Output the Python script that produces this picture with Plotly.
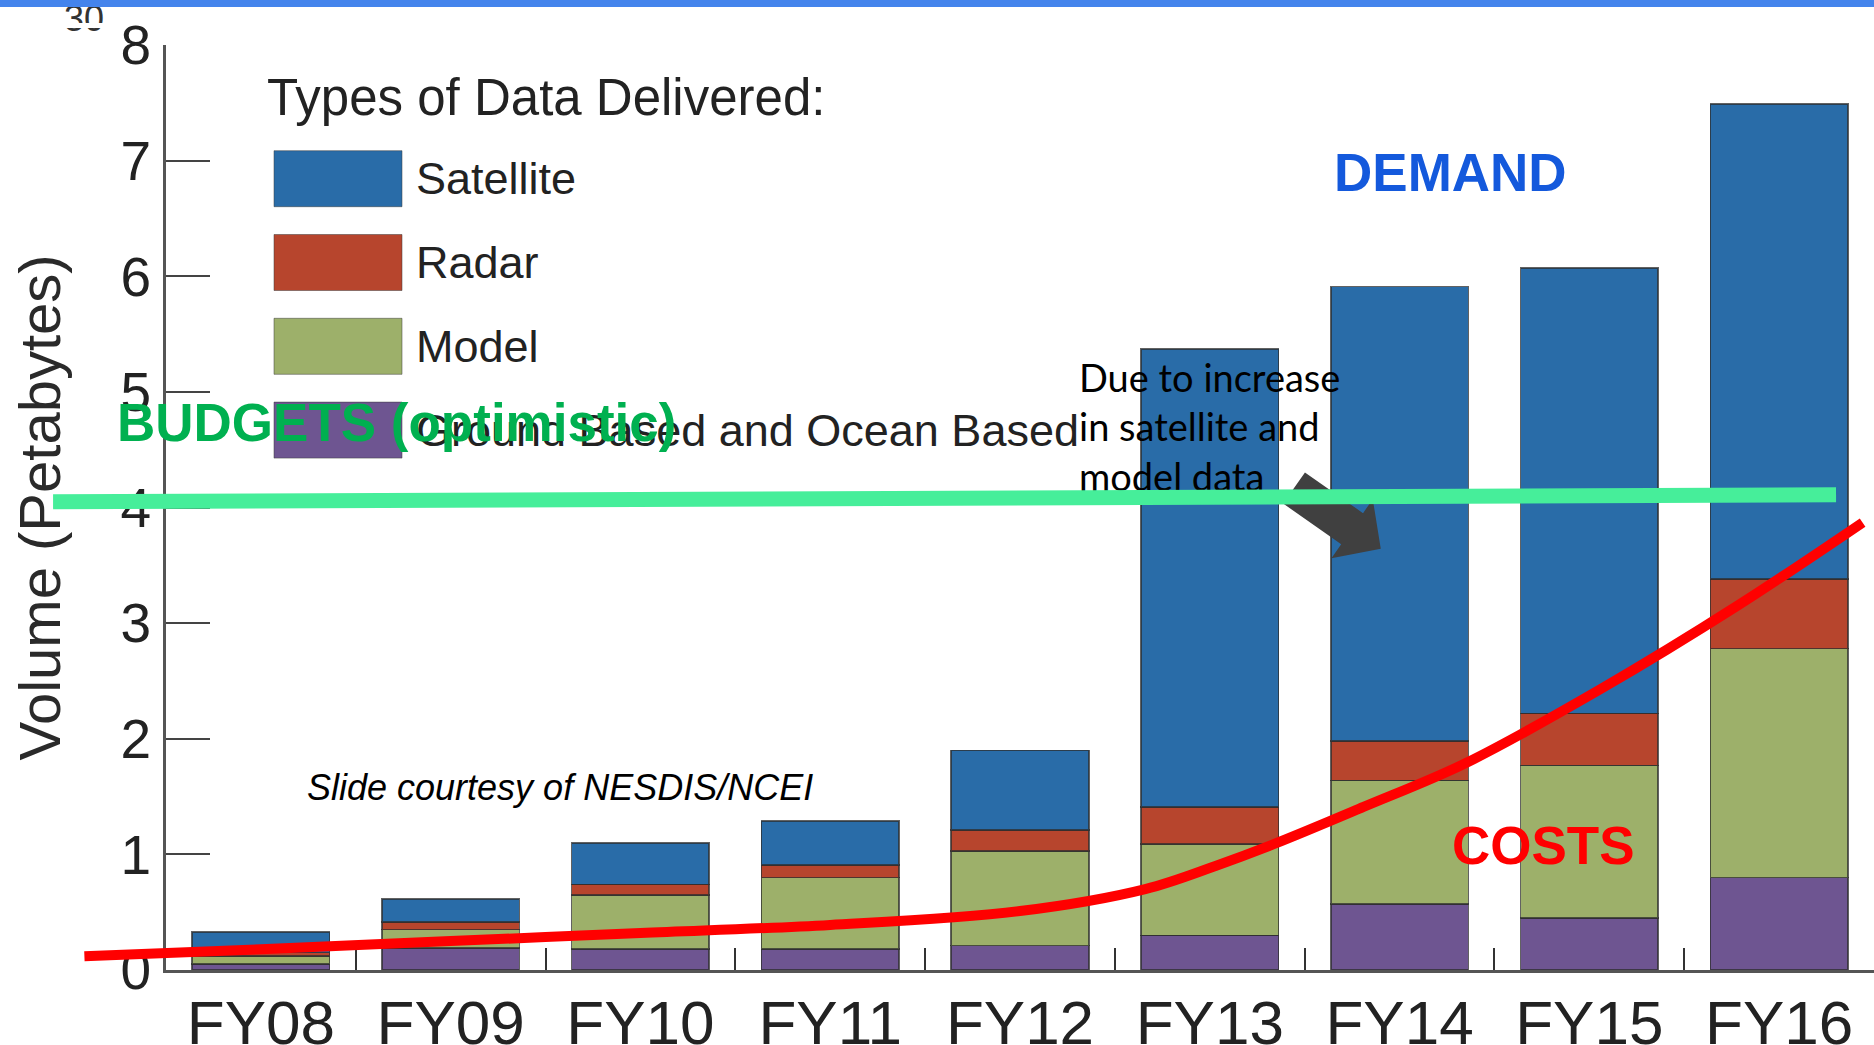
import math
import plotly.graph_objects as go

# ---------------- data ----------------
years = ["FY08", "FY09", "FY10", "FY11", "FY12", "FY13", "FY14", "FY15", "FY16"]
ground = [0.05, 0.19, 0.18, 0.18, 0.21, 0.30, 0.57, 0.45, 0.80]
model = [0.07, 0.16, 0.47, 0.62, 0.82, 0.79, 1.07, 1.32, 1.98]
radar = [0.03, 0.065, 0.09, 0.11, 0.18, 0.32, 0.34, 0.45, 0.60]
satellite = [0.18, 0.20, 0.36, 0.38, 0.69, 3.96, 3.93, 3.85, 4.11]

series_names = ["Satellite", "Radar", "Model", "Ground Based and Ocean Based"]
series_values = [satellite, radar, model, ground]
series_colors = ["#296ca8", "#b7452d", "#9db06a", "#6e5591"]

y_ticks = [0, 1, 2, 3, 4, 5, 6, 7, 8]

# overlay curves (x = category index, y = petabytes)
cost_x = [-0.93, 0, 1, 2, 3, 4, 4.66, 5.03, 5.34, 5.81, 6.35, 7.06, 7.78, 8.44]
cost_y = [0.12, 0.18, 0.25, 0.32, 0.39, 0.51, 0.70, 0.90, 1.09, 1.41, 1.79, 2.43, 3.15, 3.87]
budget_x = [-1.095, 8.30]
budget_y = [4.05, 4.11]

# ---------------- layout geometry ----------------
W, H = 1874, 1045
L, T, B = 166, 45, 75
ux = (W - L) / 9.0            # px per category
uy = (H - T - B) / 8.0        # px per petabyte
x2_range = [-0.5 - L / ux, 8.5]
y2_range = [-B / uy, 8 + T / uy]

FONT = "Liberation Sans, Arial, sans-serif"

fig = go.Figure()

# stacked bars (bottom -> top)
for name, vals, col in reversed(list(zip(series_names, series_values, series_colors))):
    fig.add_trace(go.Bar(
        x=years, y=vals, name=name, marker_color=col,
        marker_line=dict(color="rgba(45,45,45,0.75)", width=1.5),
        showlegend=False, xaxis="x", yaxis="y", hoverinfo="skip"))

# ---- overlay subplot (full figure) ----
# "30" remnant at top-left
fig.add_trace(go.Scatter(
    x=[x2_range[0] + 64 / ux], y=[y2_range[1] - 22 / uy], mode="text", text=["30"],
    textposition="middle right", textfont=dict(family=FONT, size=36, color="#333333"),
    xaxis="x2", yaxis="y2", showlegend=False, hoverinfo="skip"))

# callout text
fig.add_trace(go.Scatter(
    x=[4.311], y=[4.656], mode="text",
    text=["Due to increase<br>in satellite and<br>model data"],
    textposition="middle right",
    textfont=dict(family="Lato, Carlito, sans-serif", size=38, color="#000000"),
    xaxis="x2", yaxis="y2", showlegend=False, hoverinfo="skip"))

# block arrow
tail = (5.444, 4.169)
tip = (5.901, 3.643)
tx, ty = (tail[0] - x2_range[0]) * ux, (y2_range[1] - tail[1]) * uy
px_, py_ = (tip[0] - x2_range[0]) * ux, (y2_range[1] - tip[1]) * uy
length = math.hypot(px_ - tx, py_ - ty)
dx, dy = (px_ - tx) / length, (py_ - ty) / length
nx, ny = -dy, dx
head_len, shaft_hw, head_hw = 35, 19, 36
mx, my = tx + (length - head_len) * dx, ty + (length - head_len) * dy
poly_px = [
    (tx - shaft_hw * nx, ty - shaft_hw * ny),
    (mx - shaft_hw * nx, my - shaft_hw * ny),
    (mx - head_hw * nx, my - head_hw * ny),
    (px_, py_),
    (mx + head_hw * nx, my + head_hw * ny),
    (mx + shaft_hw * nx, my + shaft_hw * ny),
    (tx + shaft_hw * nx, ty + shaft_hw * ny),
]
fig.add_trace(go.Scatter(
    x=[x2_range[0] + p[0] / ux for p in poly_px] + [x2_range[0] + poly_px[0][0] / ux],
    y=[y2_range[1] - p[1] / uy for p in poly_px] + [y2_range[1] - poly_px[0][1] / uy],
    mode="lines", fill="toself", fillcolor="#404040", line=dict(width=0, color="#404040"),
    xaxis="x2", yaxis="y2", showlegend=False, hoverinfo="skip"))

# budget line
fig.add_trace(go.Scatter(
    x=budget_x, y=budget_y, mode="lines", line=dict(color="#46ee9a", width=15),
    xaxis="x2", yaxis="y2", showlegend=False, hoverinfo="skip"))

# cost curve
fig.add_trace(go.Scatter(
    x=cost_x, y=cost_y, mode="lines", line=dict(color="#ff0000", width=10, shape="spline", smoothing=1.0),
    xaxis="x2", yaxis="y2", showlegend=False, hoverinfo="skip"))

# ---------------- custom legend ----------------
shapes = []
annotations = []
annotations.append(dict(
    xref="paper", yref="paper", x=265 / W, y=1 - 98 / H, xanchor="left", yanchor="middle",
    text="Types of Data Delivered:", showarrow=False,
    font=dict(family=FONT, size=51, color="#222222")))
sw_left, sw_w, sw_h, sw_top0, sw_step = 274, 128, 56, 150.7, 83.8
for i, (name, col) in enumerate(zip(series_names, series_colors)):
    top = sw_top0 + i * sw_step
    shapes.append(dict(
        type="rect", xref="paper", yref="paper",
        x0=sw_left / W, x1=(sw_left + sw_w) / W, y0=1 - (top + sw_h) / H, y1=1 - top / H,
        fillcolor=col, line=dict(color="rgba(60,60,60,0.5)", width=1), layer="above"))
    annotations.append(dict(
        xref="paper", yref="paper", x=(sw_left + sw_w + 12) / W, y=1 - (top + sw_h / 2) / H,
        xanchor="left", yanchor="middle", text=name, showarrow=False,
        font=dict(family=FONT, size=45, color="#222222")))

# top blue band and white mask under the "30"
shapes.append(dict(type="rect", xref="paper", yref="paper", x0=0, x1=1, y0=1 - 7 / H, y1=1,
                   fillcolor="#4484ec", line=dict(width=0), layer="above"))
shapes.append(dict(type="rect", xref="paper", yref="paper", x0=55 / W, x1=114 / W,
                   y0=1 - 28 / H, y1=1 - 23 / H, fillcolor="#ffffff", line=dict(width=0), layer="above"))

# overlay labels
annotations += [
    dict(xref="x2", yref="y2", x=-0.769, y=4.735, xanchor="left", yanchor="middle",
         text="<b>BUDGETS (optimistic)</b>", showarrow=False,
         font=dict(family=FONT, size=53, color="#00b050")),
    dict(xref="x2", yref="y2", x=6.266, y=6.90, xanchor="center", yanchor="middle",
         text="<b>DEMAND</b>", showarrow=False,
         font=dict(family=FONT, size=53, color="#1459dc")),
    dict(xref="x2", yref="y2", x=6.761, y=1.081, xanchor="center", yanchor="middle",
         text="<b>COSTS</b>", showarrow=False,
         font=dict(family=FONT, size=53, color="#ff0000")),
    dict(xref="x2", yref="y2", x=0.233, y=1.578, xanchor="left", yanchor="middle",
         text="<i>Slide courtesy of NESDIS/NCEI</i>", showarrow=False,
         font=dict(family=FONT, size=36, color="#000000")),
]

fig.update_layout(
    template="none",
    width=W, height=H,
    margin=dict(l=0, r=0, t=0, b=0),
    paper_bgcolor="#ffffff", plot_bgcolor="rgba(0,0,0,0)",
    barmode="stack", bargap=0.275,
    showlegend=False,
    font=dict(family=FONT, color="#222222"),
    xaxis=dict(
        domain=[L / W, 1], range=[-0.5, 8.5], type="category",
        showline=True, linecolor="#555555", linewidth=3,
        ticks="inside", tickson="boundaries", ticklen=22, tickwidth=2, tickcolor="#333333",
        tickfont=dict(family=FONT, size=62, color="#222222"),
        ticklabelstandoff=-3,
        showgrid=False, zeroline=False, automargin=False, fixedrange=True, anchor="y"),
    yaxis=dict(
        domain=[B / H, 1 - T / H], range=[0, 8],
        tickvals=y_ticks, ticktext=[str(v) for v in y_ticks],
        showline=True, linecolor="#555555", linewidth=3,
        ticks="inside", ticklen=44, tickwidth=2, tickcolor="#444444",
        tickfont=dict(family=FONT, size=55, color="#222222"),
        ticklabelstandoff=1,
        title=dict(text="Volume (Petabytes)", font=dict(family=FONT, size=58, color="#2a2a2a"), standoff=42),
        showgrid=False, zeroline=False, automargin=False, fixedrange=True, anchor="x"),
    xaxis2=dict(domain=[0, 1], range=x2_range, visible=False, fixedrange=True, anchor="y2"),
    yaxis2=dict(domain=[0, 1], range=y2_range, visible=False, fixedrange=True, anchor="x2"),
    shapes=shapes,
    annotations=annotations,
)

fig.write_html(
    "out.html",
    config={"displayModeBar": False},
    post_script="document.body.style.margin='0';document.body.style.overflow='hidden';",
)
